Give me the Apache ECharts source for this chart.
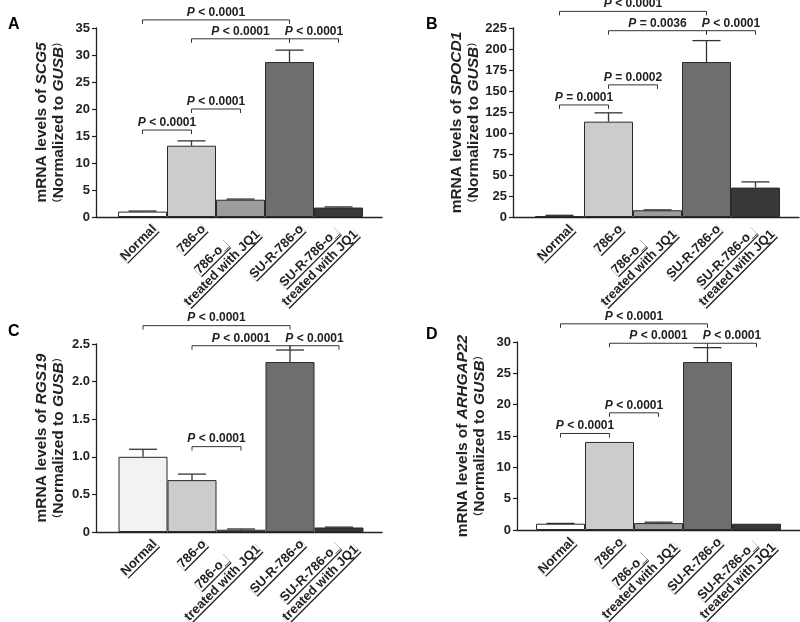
<!DOCTYPE html>
<html>
<head>
<meta charset="utf-8">
<script src="https://cdn.jsdelivr.net/npm/echarts@6/dist/echarts.min.js"></script>
<style>
  html, body { margin: 0; padding: 0; background: #fff; }
  #main { width: 800px; height: 622px; }
</style>
</head>
<body>
<div id="main"></div>
<script>
// 分组名称
var categories = ['Normal', '786-o', '786-o_\ntreated with JQ1', 'SU-R-786-o', 'SU-R-786-o_\ntreated with JQ1'];

// A: SCG5
var scg5Mean = [1.0, 13.2, 3.2, 28.7, 1.75];
var scg5Err = [0.1, 0.9, 0.12, 2.2, 0.12];
var scg5Ticks = [0, 5, 10, 15, 20, 25, 30, 35];
var scg5Pairs = [[0, 3], [1, 3], [3, 4], [0, 1], [1, 2]];
var scg5PairY = [36.5, 33.0, 33.0, 16.1, 20.0];
var scg5PText = ['< 0.0001', '< 0.0001', '< 0.0001', '< 0.0001', '< 0.0001'];

// B: SPOCD1
var spocd1Mean = [1.0, 113.5, 8.0, 184.5, 35.0];
var spocd1Err = [1.0, 10.5, 0.5, 25.5, 6.8];
var spocd1Ticks = [0, 25, 50, 75, 100, 125, 150, 175, 200, 225];
var spocd1Pairs = [[0, 3], [1, 3], [3, 4], [0, 1], [1, 2]];
var spocd1PairY = [244.8, 221.8, 221.8, 133.4, 157.3];
var spocd1PText = ['< 0.0001', '= 0.0036', '< 0.0001', '= 0.0001', '= 0.0002'];

// C: RGS19
var rgs19Mean = [1.0, 0.69, 0.03, 2.26, 0.06];
var rgs19Err = [0.10, 0.08, 0.01, 0.16, 0.005];
var rgs19Ticks = [0, 0.5, 1.0, 1.5, 2.0, 2.5];
var rgs19Pairs = [[0, 3], [1, 3], [3, 4], [1, 2]];
var rgs19PairY = [2.744, 2.477, 2.477, 1.135];
var rgs19PText = ['< 0.0001', '< 0.0001', '< 0.0001', '< 0.0001'];

// D: ARHGAP22
var arhgap22Mean = [1.0, 14.05, 1.1, 26.8, 1.0];
var arhgap22Err = [0.05, 0, 0.15, 2.3, 0];
var arhgap22Ticks = [0, 5, 10, 15, 20, 25, 30];
var arhgap22Pairs = [[0, 3], [1, 3], [3, 4], [0, 1], [1, 2]];
var arhgap22PairY = [32.9, 29.8, 29.8, 15.4, 18.7];
var arhgap22PText = ['< 0.0001', '< 0.0001', '< 0.0001', '< 0.0001', '< 0.0001'];

var FONT = '"Liberation Sans", Arial, "Noto Sans CJK SC", sans-serif';
var INK = '#222';

(function () {
  var dom = document.getElementById('main');
  var myChart = echarts.init(dom, null, { renderer: 'canvas' });

  // 量一下标签宽度，两行标签居中对齐
  var ctx = document.createElement('canvas').getContext('2d');
  ctx.font = 'bold 13px "Liberation Sans"';
  // 下划线：白底方框的阴影，沿文字法线方向(旋转45度)偏移
  var labelRich = {
    u: {
      fontSize: 13, fontWeight: 'bold', fontFamily: FONT, color: INK,
      backgroundColor: '#fff', shadowColor: INK, shadowBlur: 0,
      shadowOffsetX: 0.95, shadowOffsetY: 0.95,
      height: 12, lineHeight: 15
    }
  };
  function labelText(v) {
    var lines = v.split('\n');
    var w = lines.map(function (l) { return ctx.measureText(l).width; });
    var mw = Math.max.apply(null, w);
    return lines.map(function (l, k) {
      var pad = Math.round((mw - w[k]) / 2);
      if (pad <= 0) return '{u|' + l + '}';
      labelRich['s' + pad] = { width: pad, height: 12, lineHeight: 15 };
      return '{u|' + l + '}{s' + pad + '| }';
    }).join('\n');
  }
  categories.forEach(labelText);

  var barColors = ['#ffffff', '#cccccc', '#9c9c9c', '#6e6e6e', '#383838'];

  var option = {
    animation: false,
    backgroundColor: '#fff',
    title: [],
    grid: [],
    xAxis: [],
    yAxis: [],
    series: []
  };

  var BAR = 49;

  function addPanel(p) {
    var g = option.grid.length;
    var xmin = -(p.pad + BAR / 2) / BAR;
    var xmax = xmin + p.width / BAR;
    var ymax = p.ticks[p.ticks.length - 1];
    var step = p.ticks[1] - p.ticks[0];

    option.title.push({
      text: p.letter, left: p.letterX, top: p.letterY,
      textStyle: { fontFamily: FONT, fontWeight: 'bold', fontSize: 16, color: '#000' }
    });

    // 主网格：柱子、误差线、显著性标注
    option.grid.push({ left: p.left, top: p.top, width: p.width, height: p.height, containLabel: false, outerBoundsMode: 'none' });
    option.xAxis.push({
      gridIndex: g, type: 'value', min: xmin, max: xmax,
      axisLine: { show: true, onZero: false, lineStyle: { color: INK, width: 1.3 } },
      axisTick: { show: false }, axisLabel: { show: false }, splitLine: { show: false }
    });
    option.yAxis.push({
      gridIndex: g, type: 'value', min: 0, max: ymax, interval: step,
      name: '{n|mRNA levels of }{i|' + p.gene + '}\n{p|（}{n|Normalized to }{i|GUSB}{p|）}',
      nameLocation: 'middle', nameGap: 29,
      nameTextStyle: {
        rich: {
          n: { fontFamily: FONT, fontWeight: 'bold', fontSize: 15.5, color: INK, lineHeight: 17 },
          i: { fontFamily: FONT, fontWeight: 'bold', fontStyle: 'italic', fontSize: 15.5, color: INK, lineHeight: 17 },
          p: { fontFamily: FONT, fontWeight: 'bold', fontSize: 10, color: INK, lineHeight: 17 }
        }
      },
      axisLine: { show: true, onZero: false, lineStyle: { color: INK, width: 1.3 } },
      axisTick: { show: true, length: 4, lineStyle: { color: INK, width: 1.2 } },
      axisLabel: {
        margin: 6, fontFamily: FONT, fontWeight: 'bold', fontSize: 13, color: INK,
        formatter: p.fmt || function (v) { return String(v); }
      },
      splitLine: { show: false }
    });

    option.series.push({
      type: 'bar', xAxisIndex: g, yAxisIndex: g, barWidth: BAR,
      data: p.mean.map(function (v, i) { return [i, v]; }),
      itemStyle: {
        color: function (params) { return params.dataIndex === 0 ? p.firstColor : barColors[params.dataIndex]; },
        borderColor: '#2a2a2a', borderWidth: 1
      },
      silent: true
    });

    // 误差线（只画上半部分）
    option.series.push({
      type: 'custom', xAxisIndex: g, yAxisIndex: g, clip: false, silent: true,
      data: p.mean.map(function (v, i) { return [i, v, p.err[i]]; }),
      renderItem: function (params, api) {
        var e = api.value(2);
        if (!e) return null;
        var a = api.coord([api.value(0), api.value(1)]);
        var b = api.coord([api.value(0), api.value(1) + e]);
        var st = { stroke: '#333', lineWidth: 1.3, fill: null };
        return {
          type: 'group', children: [
            { type: 'line', shape: { x1: a[0], y1: a[1], x2: b[0], y2: b[1] }, style: st },
            { type: 'line', shape: { x1: b[0] - 14, y1: b[1], x2: b[0] + 14, y2: b[1] }, style: st }
          ]
        };
      }
    });

    // 显著性括号
    option.series.push({
      type: 'custom', xAxisIndex: g, yAxisIndex: g, clip: false, silent: true,
      data: p.pairs.map(function (q, k) { return [q[0], q[1], p.pairY[k]]; }),
      renderItem: function (params, api) {
        var a = api.coord([api.value(0), api.value(2)]);
        var b = api.coord([api.value(1), api.value(2)]);
        var st = { stroke: '#333', lineWidth: 1, fill: null };
        return {
          type: 'group', children: [
            { type: 'polyline', shape: { points: [[a[0], a[1] + 4], [a[0], a[1]], [b[0], b[1]], [b[0], b[1] + 4]] }, style: st },
            {
              type: 'text',
              style: {
                x: (a[0] + b[0]) / 2, y: a[1] - 1.5,
                text: '{i|P}{n| ' + p.ptext[params.dataIndex] + '}',
                align: 'center', verticalAlign: 'bottom',
                rich: {
                  i: { fontFamily: FONT, fontWeight: 'bold', fontStyle: 'italic', fontSize: 12, fill: INK },
                  n: { fontFamily: FONT, fontWeight: 'bold', fontSize: 12, fill: INK }
                }
              }
            }
          ]
        };
      }
    });

    // 标签网格：分类轴只负责斜排文字
    var h = g + 1;
    option.grid.push({ left: p.left + p.pad + 12, top: p.top, width: BAR * 5, height: p.height, containLabel: false, outerBoundsMode: 'none' });
    option.xAxis.push({
      gridIndex: h, type: 'category', data: categories, boundaryGap: true,
      axisLine: { show: false }, axisTick: { show: false }, splitLine: { show: false },
      axisLabel: {
        interval: 0, rotate: 45, margin: 10, hideOverlap: false,
        formatter: labelText, rich: labelRich
      }
    });
    option.yAxis.push({ gridIndex: h, type: 'value', show: false, min: 0, max: 1 });
  }

  addPanel({ letter: 'A', letterX: 3, letterY: 12, left: 96, top: 28, width: 286, height: 189, pad: 22,
    gene: 'SCG5', mean: scg5Mean, err: scg5Err, ticks: scg5Ticks,
    pairs: scg5Pairs, pairY: scg5PairY, ptext: scg5PText, firstColor: '#ffffff' });
  addPanel({ letter: 'B', letterX: 421, letterY: 12, left: 513, top: 28, width: 286, height: 189, pad: 22,
    gene: 'SPOCD1', mean: spocd1Mean, err: spocd1Err, ticks: spocd1Ticks,
    pairs: spocd1Pairs, pairY: spocd1PairY, ptext: spocd1PText, firstColor: '#ffffff' });
  addPanel({ letter: 'C', letterX: 3, letterY: 319, left: 96, top: 344, width: 286, height: 188, pad: 22.5,
    gene: 'RGS19', mean: rgs19Mean, err: rgs19Err, ticks: rgs19Ticks,
    pairs: rgs19Pairs, pairY: rgs19PairY, ptext: rgs19PText, firstColor: '#f2f2f2',
    fmt: function (v) { return v === 0 ? '0' : v.toFixed(1); } });
  addPanel({ letter: 'D', letterX: 421, letterY: 322, left: 517, top: 342, width: 283, height: 188, pad: 19,
    gene: 'ARHGAP22', mean: arhgap22Mean, err: arhgap22Err, ticks: arhgap22Ticks,
    pairs: arhgap22Pairs, pairY: arhgap22PairY, ptext: arhgap22PText, firstColor: '#ffffff' });

  if (option && typeof option === 'object') {
    myChart.setOption(option);
  }
})();
</script>
</body>
</html>
